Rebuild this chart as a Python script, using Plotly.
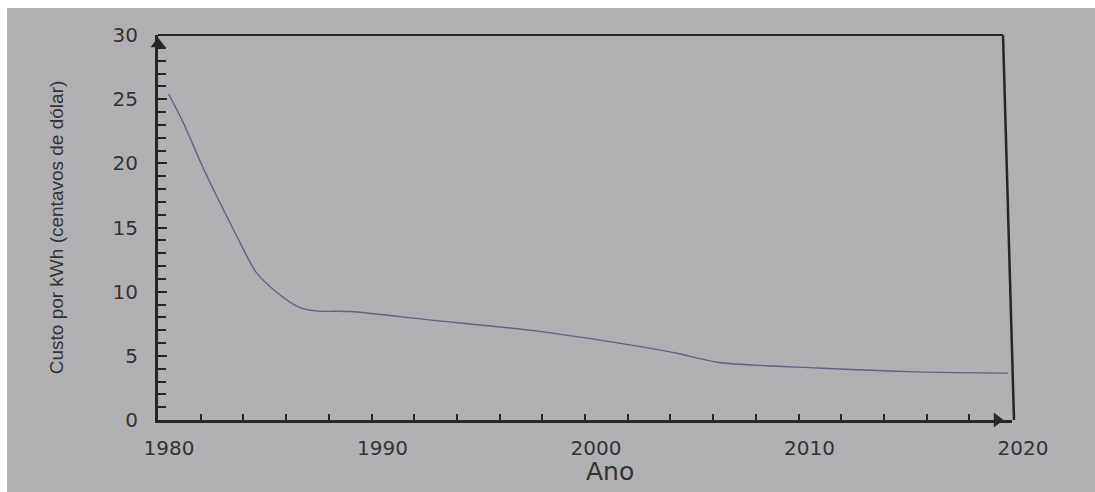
import plotly.graph_objects as go

# Data
anos = [1980.5, 1981.2, 1982.1, 1983.0, 1983.7, 1984.6, 1985.6, 1986.6, 1987.4,
        1989.0, 1992.7, 1997.4, 2002.1, 2004.3, 2006.2, 2010.9, 2015.6, 2019.8]
custo = [25.4, 23.1, 19.7, 16.6, 14.3, 11.5, 9.9, 8.8, 8.5,
         8.45, 7.8, 7.0, 5.85, 5.2, 4.5, 4.05, 3.75, 3.65]

x_ticks = [1980, 1990, 2000, 2010, 2020]
y_ticks = [0, 5, 10, 15, 20, 25, 30]

axis_color = "#262626"
bg = "#b1b1b3"

fig = go.Figure()
fig.add_trace(go.Scatter(
    x=anos, y=custo, mode="lines",
    line=dict(color="#5f6485", width=1.4, shape="spline", smoothing=0.8),
    hoverinfo="skip", showlegend=False,
))

# axis arrowheads
fig.add_trace(go.Scatter(
    x=[1980], y=[29.3], mode="markers",
    marker=dict(symbol="triangle-up", size=13, color=axis_color),
    cliponaxis=False, hoverinfo="skip", showlegend=False,
))
fig.add_trace(go.Scatter(
    x=[2019.3], y=[0], mode="markers",
    marker=dict(symbol="triangle-right", size=13, color=axis_color),
    cliponaxis=False, hoverinfo="skip", showlegend=False,
))

tick_font = dict(family="DejaVu Sans", size=20, color="#333333")

fig.update_xaxes(
    range=[1980, 2020], tickvals=x_ticks, ticktext=[str(v) for v in x_ticks],
    showgrid=False, zeroline=False,
    showline=True, linewidth=3, linecolor=axis_color,
    ticks="inside", ticklen=6, tickwidth=2, tickcolor=axis_color,
    minor=dict(dtick=2, ticks="inside", ticklen=6, tickwidth=2, tickcolor=axis_color, showgrid=False),
    tickfont=tick_font, ticklabelstandoff=8, ticklabelshift=11,
)
fig.update_yaxes(
    range=[0, 30], tickvals=y_ticks, ticktext=[str(v) for v in y_ticks],
    showgrid=False, zeroline=False,
    showline=True, linewidth=3, linecolor=axis_color,
    ticks="inside", ticklen=9, tickwidth=2, tickcolor=axis_color,
    minor=dict(dtick=1, ticks="inside", ticklen=8, tickwidth=2, tickcolor=axis_color, showgrid=False),
    tickfont=tick_font, ticklabelstandoff=13,
    title=dict(text="Custo por kWh (centavos de dólar)",
               font=dict(family="Liberation Sans", size=19, color="#333333"), standoff=44),
)

W, H = 1095, 492
L, R, T, B = 158, 1012, 35, 420
pw, ph = R - L, B - T

def px(xp):
    return (xp - L) / pw

def py(yp):
    return (B - yp) / ph

shapes = [
    # white strips of the photographed page (top and left)
    dict(type="rect", xref="paper", yref="paper", x0=px(-5), x1=px(7),
         y0=py(H + 5), y1=py(-5), fillcolor="white", line=dict(width=0), layer="below"),
    dict(type="rect", xref="paper", yref="paper", x0=px(-5), x1=px(W + 5),
         y0=py(8), y1=py(-5), fillcolor="white", line=dict(width=0), layer="below"),
    # top and right frame lines
    dict(type="line", xref="paper", yref="paper", x0=0, x1=px(1003), y0=1, y1=1,
         line=dict(color=axis_color, width=2)),
    dict(type="line", xref="paper", yref="paper", x0=px(1003), x1=px(1014), y0=1, y1=0,
         line=dict(color=axis_color, width=2.5)),
]

annotations = [
    dict(text="Ano", xref="paper", yref="paper", x=px(610), y=py(471),
         xanchor="center", yanchor="middle", showarrow=False,
         font=dict(family="DejaVu Sans", size=25, color="#333333")),
]

fig.update_layout(
    width=W, height=H,
    margin=dict(l=L, r=W - R, t=T, b=H - B),
    paper_bgcolor=bg, plot_bgcolor="rgba(0,0,0,0)",
    shapes=shapes, annotations=annotations, showlegend=False,
)

fig.write_html(
    "out.html",
    config={"displayModeBar": False},
    post_script="document.body.style.margin='0';document.body.style.overflow='hidden';",
)
